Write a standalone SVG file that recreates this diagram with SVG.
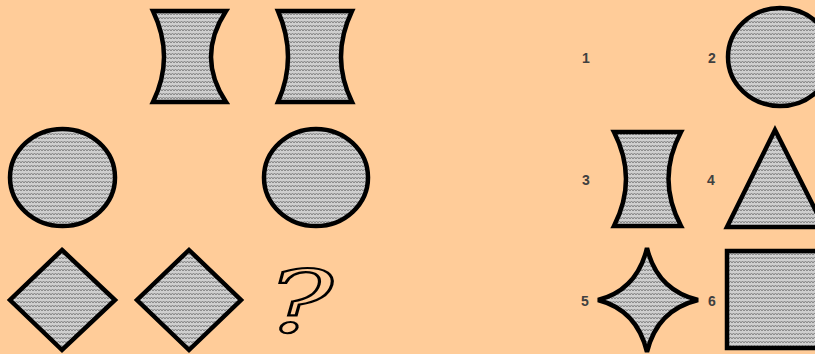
<svg xmlns="http://www.w3.org/2000/svg" width="815" height="354" viewBox="0 0 815 354">
<defs>
<pattern id="zz" width="6" height="4" patternUnits="userSpaceOnUse">
<rect width="6" height="4" fill="#cfcfcf"/>
<polyline points="0,3 1.5,1 3,3 4.5,1 6,3" fill="none" stroke="#858585" stroke-width="1"/>
</pattern>
</defs>
<style>
.s{fill:url(#zz);stroke:#000;stroke-width:4.5;stroke-linejoin:miter}
.lbl{font-family:"Liberation Sans",Arial,sans-serif;font-weight:bold;font-size:14px;fill:#404040}
.q{font-family:"DejaVu Serif","Liberation Serif",serif;font-style:italic;font-size:86px;fill:none;stroke:#000;stroke-width:2.2}
</style>
<rect width="815" height="354" fill="#FFCC99"/>
<g id="hourglass-a"><path class="s" d="M153,11 L226,11 Q196,57 226,102 L153,102 Q175,57 153,11 Z"/></g>
<g id="hourglass-b"><path class="s" d="M278,11 L352,11 Q330,57 352,102 L278,102 Q298,57 278,11 Z"/></g>
<g id="circle-a"><ellipse class="s" cx="62.5" cy="177.5" rx="52.5" ry="48.5"/></g>
<g id="circle-b"><ellipse class="s" cx="316" cy="177.5" rx="52" ry="48.5"/></g>
<g id="diamond-a"><polygon class="s" points="62,250 115,300 62,350 10,300"/></g>
<g id="diamond-b"><polygon class="s" points="189,250 241,300 189,350 137,300"/></g>
<g id="question"><text class="q" transform="translate(300,332) scale(1.45,1)" x="0" y="0" text-anchor="middle">?</text></g>
<g id="opt1"><text class="lbl" x="582" y="63">1</text></g>
<g id="opt2"><text class="lbl" x="708" y="63">2</text><ellipse class="s" cx="780" cy="57" rx="52" ry="49"/></g>
<g id="opt3"><text class="lbl" x="582" y="185">3</text><path class="s" d="M614,132 L681,132 Q656,179 681,226 L614,226 Q638,179 614,132 Z"/></g>
<g id="opt4"><text class="lbl" x="707" y="185">4</text><polygon class="s" points="775,130 824,227 727,227"/></g>
<g id="opt5"><text class="lbl" x="581" y="306">5</text><path class="s" d="M647,248 Q657,290 698,300 Q657,310 647,352 Q637,310 598,300 Q637,290 647,248 Z"/></g>
<g id="opt6"><text class="lbl" x="708" y="306">6</text><rect class="s" x="727" y="251" width="100" height="97"/></g>
</svg>
